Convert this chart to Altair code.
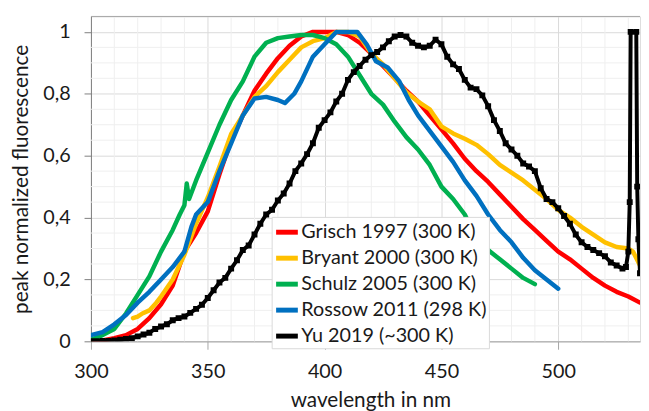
import altair as alt
import pandas as pd

series_names = ["Grisch 1997 (300 K)", "Bryant 2000 (300 K)", "Schulz 2005 (300 K)",
                "Rossow 2011 (298 K)", "Yu 2019 (~300 K)"]
series_colors = ["#FF0000", "#FFC000", "#00B050", "#0070C0", "#000000"]

grisch_nm = [300, 305, 310, 315, 320, 325, 330, 335, 340, 345, 350, 355, 360, 365, 370, 375,
             380, 385, 390, 395, 400, 405, 410, 415, 420, 425, 430, 435, 440, 445, 450, 455,
             460, 465, 470, 475, 480, 485, 490, 495, 500, 505, 510, 515, 520, 525, 530, 535]
grisch_val = [0.0, 0.003, 0.01, 0.02, 0.04, 0.075, 0.12, 0.18, 0.29, 0.35, 0.42, 0.54, 0.65,
              0.73, 0.81, 0.865, 0.915, 0.955, 0.985, 1.0, 1.0, 1.0, 0.99, 0.965, 0.93, 0.89,
              0.85, 0.81, 0.775, 0.73, 0.685, 0.64, 0.59, 0.55, 0.515, 0.475, 0.435, 0.395,
              0.36, 0.325, 0.29, 0.265, 0.235, 0.205, 0.18, 0.16, 0.145, 0.125]

bryant_nm = [318, 320, 322, 325, 328, 330, 335, 340, 345, 350, 355, 360, 365, 370, 375, 380,
             385, 390, 395, 400, 405, 410, 415, 420, 425, 430, 435, 440, 445, 450, 455, 460,
             465, 470, 475, 480, 485, 490, 495, 500, 505, 510, 515, 520, 525, 530, 532, 535]
bryant_val = [0.075, 0.08, 0.09, 0.10, 0.125, 0.145, 0.20, 0.28, 0.38, 0.465, 0.565, 0.67,
              0.73, 0.79, 0.825, 0.87, 0.91, 0.95, 0.97, 0.98, 1.0, 1.0, 0.985, 0.93, 0.895,
              0.85, 0.805, 0.775, 0.75, 0.695, 0.672, 0.655, 0.635, 0.605, 0.57, 0.545, 0.52,
              0.49, 0.46, 0.425, 0.40, 0.37, 0.345, 0.32, 0.305, 0.30, 0.29, 0.245]

schulz_nm = [300, 305, 310, 315, 320, 325, 330, 335, 338, 340, 341, 342, 345, 350, 355, 360,
             365, 370, 375, 380, 385, 390, 395, 400, 405, 410, 415, 420, 425, 430, 435, 440,
             445, 450, 455, 460, 465, 470, 475, 480, 485, 490]
schulz_val = [0.005, 0.02, 0.04, 0.09, 0.15, 0.21, 0.29, 0.36, 0.41, 0.44, 0.51, 0.46, 0.52,
              0.61, 0.70, 0.78, 0.84, 0.92, 0.965, 0.98, 0.985, 0.99, 0.99, 0.98, 0.96, 0.92,
              0.86, 0.80, 0.765, 0.71, 0.66, 0.62, 0.57, 0.50, 0.46, 0.41, 0.33, 0.295, 0.265,
              0.235, 0.205, 0.185]

rossow_nm = [300, 305, 310, 315, 320, 325, 330, 335, 340, 343, 345, 350, 355, 360, 365, 370,
             375, 380, 383, 387, 390, 395, 400, 405, 410, 414, 418, 422, 427, 432, 436, 440,
             445, 450, 455, 460, 465, 470, 475, 480, 485, 490, 495, 500]
rossow_val = [0.02, 0.03, 0.055, 0.085, 0.125, 0.16, 0.20, 0.24, 0.29, 0.37, 0.41, 0.45, 0.55,
              0.64, 0.73, 0.785, 0.79, 0.78, 0.77, 0.80, 0.84, 0.92, 0.96, 1.0, 1.0, 1.0, 0.96,
              0.905, 0.885, 0.84, 0.78, 0.73, 0.68, 0.63, 0.58, 0.52, 0.47, 0.41, 0.36, 0.32,
              0.27, 0.23, 0.20, 0.17]

yu_nm = [300, 302.5, 305, 307.5, 310, 312.5, 315, 317.5, 320, 322.5, 325, 327.5, 330, 332.5,
         335, 337.5, 340, 342.5, 345, 347.5, 350, 352.5, 355, 357.5, 360, 362.5, 365, 367.5,
         370, 372.5, 375, 377.5, 380, 382.5, 385, 387.5, 390, 392.5, 395, 397.5, 400, 402.5,
         405, 407.5, 410, 412.5, 415, 417.5, 420, 422.5, 425, 427.5, 430, 432.5, 435, 437.5,
         440, 442.5, 445, 447.5, 450, 452.5, 455, 457.5, 460, 462.5, 465, 467.5, 470, 472.5,
         475, 477.5, 480, 482.5, 485, 487.5, 490, 492.5, 495, 497.5, 500, 502.5, 505, 507.5,
         510, 512.5, 515, 517.5, 520, 522.5, 525, 527.5, 529, 530, 530.6, 531.0, 533.4, 533.8,
         534.3, 535]
yu_val = [0.0, 0.0, 0.001, 0.001, 0.003, 0.005, 0.008, 0.010, 0.016, 0.022, 0.028, 0.040,
          0.048, 0.055, 0.068, 0.075, 0.080, 0.092, 0.105, 0.118, 0.140, 0.165, 0.190, 0.205,
          0.235, 0.262, 0.295, 0.310, 0.345, 0.380, 0.410, 0.425, 0.455, 0.478, 0.510, 0.550,
          0.575, 0.605, 0.640, 0.690, 0.715, 0.740, 0.775, 0.800, 0.845, 0.870, 0.890, 0.910,
          0.925, 0.935, 0.950, 0.970, 0.985, 0.990, 0.985, 0.965, 0.955, 0.950, 0.955, 0.975,
          0.960, 0.920, 0.895, 0.880, 0.845, 0.820, 0.815, 0.795, 0.760, 0.715, 0.680, 0.640,
          0.620, 0.600, 0.575, 0.565, 0.550, 0.495, 0.460, 0.450, 0.430, 0.405, 0.380, 0.345,
          0.320, 0.305, 0.295, 0.285, 0.275, 0.255, 0.245, 0.235, 0.240, 0.290, 0.450, 1.000,
          1.000, 0.500, 0.330, 0.220]

x_major = [300, 350, 400, 450, 500]
x_minor = [310, 320, 330, 340, 360, 370, 380, 390, 410, 420, 430, 440, 460, 470, 480, 490,
           510, 520, 530]
y_major = [0, 0.2, 0.4, 0.6, 0.8, 1]
y_minor = [0.05, 0.1, 0.15, 0.25, 0.3, 0.35, 0.45, 0.5, 0.55, 0.65, 0.7, 0.75, 0.85, 0.9,
           0.95]
x_domain = [300, 535]
y_domain = [0, 1.05]

rows = []
for name, xs, ys in zip(series_names,
                        [grisch_nm, bryant_nm, schulz_nm, rossow_nm, yu_nm],
                        [grisch_val, bryant_val, schulz_val, rossow_val, yu_val]):
    for i, (xv, yv) in enumerate(zip(xs, ys)):
        rows.append({"series": name, "nm": xv, "val": yv, "i": i})
df = pd.DataFrame(rows)

FONT = "Lato"
TXT = "#1a1a1a"

x_axis = alt.Axis(values=x_major, title="wavelength in nm", grid=True, gridColor="#d9d9d9",
                  domainColor="#a6a6a6", tickColor="#a6a6a6", tickSize=8, labelPadding=13,
                  labelFontSize=20, titleFontSize=21, titlePadding=8, labelColor=TXT,
                  titleColor=TXT, labelFont=FONT, titleFont=FONT, titleFontWeight="normal",
                  labelFlush=False, titleX=283, titleAlign="center")
y_axis = alt.Axis(values=y_major, title="peak normalized fluorescence", grid=True,
                  gridColor="#d9d9d9", domainColor="#7f7f7f", tickColor="#7f7f7f", tickSize=7,
                  labelPadding=14, labelFontSize=20, titleFontSize=21, titlePadding=12,
                  labelColor=TXT, titleColor=TXT, labelFont=FONT, titleFont=FONT,
                  titleFontWeight="normal", labelFlush=False,
                  labelExpr="datum.value == 0 ? '0' : datum.value == 1 ? '1' : replace(format(datum.value, '.1f'), '.', ',')")

x_scale = alt.Scale(domain=x_domain, nice=False, zero=False)
y_scale = alt.Scale(domain=y_domain, nice=False, zero=True)

def X():
    return alt.X("nm:Q", scale=x_scale, axis=x_axis)

def Y():
    return alt.Y("val:Q", scale=y_scale, axis=y_axis)

color_enc = alt.Color(
    "series:N",
    scale=alt.Scale(domain=series_names, range=series_colors),
    legend=alt.Legend(title=None, orient="none", legendX=183, legendY=203,
                      fillColor="white", strokeColor="#d9d9d9", padding=2,
                      symbolType="stroke", symbolStrokeWidth=5, symbolSize=484,
                      labelFontSize=20, labelFont=FONT, labelColor=TXT, rowPadding=2.3,
                      labelOffset=1, labelLimit=300),
)

minor_x_layer = alt.Chart(pd.DataFrame({"nm": x_minor})).mark_rule(
    color="#efefef", strokeWidth=1).encode(x=X())
minor_y_layer = alt.Chart(pd.DataFrame({"val": y_minor})).mark_rule(
    color="#efefef", strokeWidth=1).encode(y=Y())
top_layer = alt.Chart(pd.DataFrame({"val": [y_domain[1]]})).mark_rule(
    color="#a6a6a6", strokeWidth=1).encode(y=Y())

layers = [minor_x_layer, minor_y_layer, top_layer]
for name in series_names[:4]:
    layers.append(
        alt.Chart(df).transform_filter(alt.datum.series == name)
        .mark_line(strokeWidth=4.5, clip=True, strokeJoin="round", strokeCap="round")
        .encode(x=X(), y=Y(), color=color_enc, order="i:Q")
    )
yu = series_names[4]
layers.append(
    alt.Chart(df).transform_filter(alt.datum.series == yu)
    .mark_line(strokeWidth=4, clip=True)
    .encode(x=X(), y=Y(), color=color_enc, order="i:Q")
)
layers.append(
    alt.Chart(df).transform_filter(alt.datum.series == yu)
    .mark_square(size=36, color="#000000", opacity=1, clip=True)
    .encode(x=X(), y=Y())
)

chart = alt.layer(*layers).properties(
    width=556, height=329,
    autosize=alt.AutoSizeParams(type="none"),
    padding={"left": 84, "top": 6, "right": 1, "bottom": 68},
    background="white",
).configure_view(strokeWidth=0).configure(font=FONT)

chart.save("out.html", embed_options={"renderer": "svg", "actions": False})
